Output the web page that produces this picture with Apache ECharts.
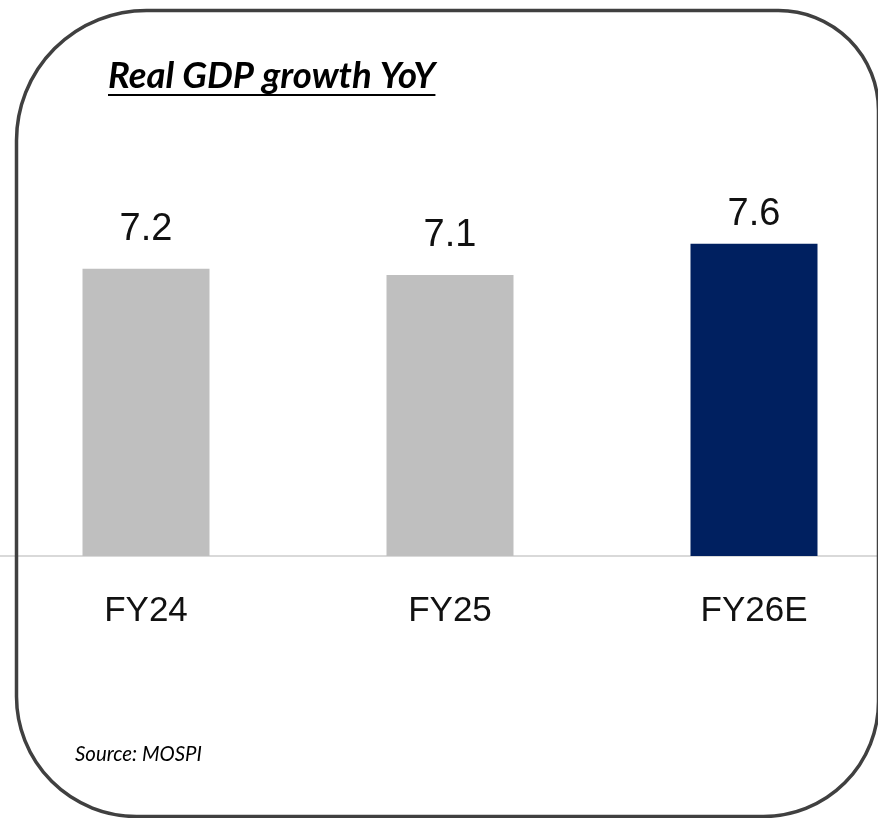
<!DOCTYPE html>
<html><head><meta charset="utf-8">
<script src="https://cdn.jsdelivr.net/npm/echarts@6/dist/echarts.min.js"></script>
<style>html,body{margin:0;padding:0;background:#fff;overflow:hidden;width:878px;height:818px}#c{width:912px;height:818px;margin-left:-6px}</style>
</head><body><div id="c"></div>
<script>
const categories = ['FY24', 'FY25', 'FY26E'];
const values = [7.2, 7.1, 7.6];
const barColors = ['#bfbfbf', '#bfbfbf', '#002060'];
const titleText = 'Real GDP growth YoY';
const sourceText = 'Source: MOSPI';

const OX = 6; // offset of the chart div
const cv = document.createElement('canvas').getContext('2d');
function w(font, t) { cv.font = font; return cv.measureText(t).width; }

const titleFam = '"Lato", "Open Sans", sans-serif';
const tSize = 30 * 327 / w('italic bold 30px ' + titleFam, titleText);
const titleFont = 'italic bold ' + tSize.toFixed(1) + 'px ' + titleFam;
const titleW = w(titleFont, titleText);
const sSize = 16 * 127 / w('italic 16px ' + titleFam, sourceText);
const sourceFont = 'italic ' + sSize.toFixed(1) + 'px ' + titleFam;

const labelDist = [20, 20, 10];

const chart = echarts.init(document.getElementById('c'), null, {renderer: 'canvas'});
chart.setOption({
  animation: false,
  backgroundColor: '#ffffff',
  grid: {left: 0, right: 0, top: 100, bottom: 262, containLabel: false},
  xAxis: {
    type: 'category', data: categories,
    axisLine: {show: true, lineStyle: {color: '#d9d9d9', width: 2}},
    axisTick: {show: false},
    axisLabel: {color: '#111', fontSize: 35, fontFamily: '"Liberation Sans", Arial, sans-serif', margin: 38}
  },
  yAxis: {type: 'value', min: 2.6, max: 9.9, show: false, splitLine: {show: false}},
  series: [{
    type: 'bar', barWidth: 127,
    data: values.map((v, i) => ({value: v, itemStyle: {color: barColors[i]}, label: {distance: labelDist[i]}})),
    label: {show: true, position: 'top', color: '#111', fontSize: 38,
      fontFamily: '"Liberation Sans", Arial, sans-serif'}
  }],
  graphic: [
    {type: 'rect', left: 14 + OX, top: 8, shape: {x: 0, y: 0, width: 862, height: 806, r: [130, 100, 115, 120]},
      style: {fill: 'none', stroke: '#404040', lineWidth: 3.5}, z: 10},
    {type: 'text', left: 108 + OX, top: 58, style: {text: titleText, font: titleFont, fill: '#000'}, z: 11},
    {type: 'line', shape: {x1: 108 + OX, y1: 95, x2: 108 + OX + titleW, y2: 95}, style: {stroke: '#000', lineWidth: 2}, z: 11},
    {type: 'text', left: 75 + OX, top: 744, style: {text: sourceText, font: sourceFont, fill: '#000'}, z: 11}
  ]
});
</script></body></html>
